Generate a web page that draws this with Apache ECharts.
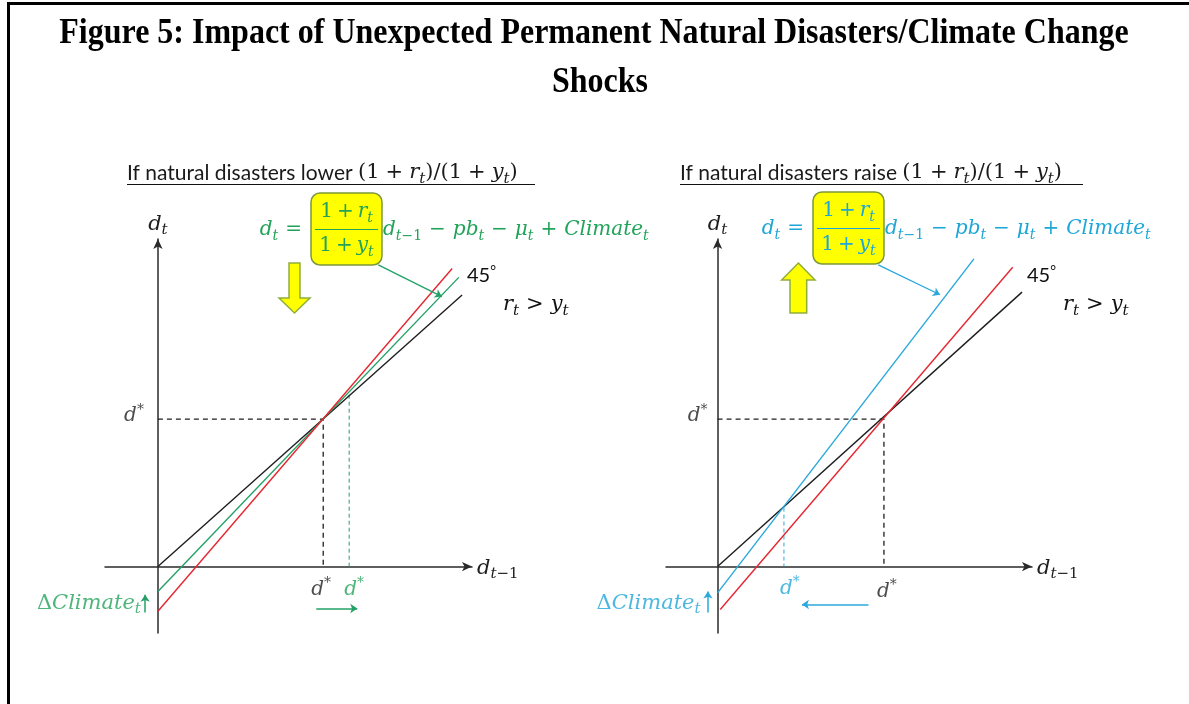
<!DOCTYPE html>
<html><head><meta charset="utf-8">
<script src="https://cdn.jsdelivr.net/npm/echarts@6/dist/echarts.min.js"></script>
<style>html,body{margin:0;padding:0;background:#fff}#c{width:1189px;height:704px}</style>
</head><body><div id="c"></div>
<script>
// ---------- DATA (d* normalised to 10 on both axes) ----------
const dStar = 10;
// Left panel: natural disasters lower (1+r)/(1+y)
const leftBlack = [[0, 0], [18.4, 18.4]];          // reference line
const leftRed   = [[0, -3.03], [17.8, 20.2]];       // original dynamics
const leftGreen = [[0, -1.69], [18.2, 19.6]];       // after shock
const leftNewStar = [11.57, 11.65];                 // new steady state (green)
// Right panel: natural disasters raise (1+r)/(1+y)
const rightBlack = [[0, 0], [18.3, 18.6]];
const rightRed   = [[0.16, -2.91], [17.74, 20.29]];
const rightBlue  = [[0, -1.78], [15.41, 20.85]];
const rightNewStar = [3.99, 4.0];
// annotation arrows (data units)
const leftShiftArrow   = [[9.58, -2.84], [12.06, -2.84]];
const leftClimateArrow = [[-0.77, -3.11], [-0.77, -1.90]];
const leftPointer      = [[13.33, 20.45], [17.18, 18.30]];
const rightShiftArrow  = [[9.07, -2.57], [5.07, -2.57]];
const rightClimateArrow= [[-0.58, -3.11], [-0.58, -1.69]];
const rightPointer     = [[9.66, 20.45], [13.37, 18.42]];

const titleLines = ['Figure 5: Impact of Unexpected Permanent Natural Disasters/Climate Change', 'Shocks'];
const subtitleWords = ['If natural disasters lower ', 'If natural disasters raise '];

// ---------- STYLE ----------
const K = '#1e1e1e', R = '#e5262f', G = '#22a066', GT = '#22a35a', B = '#29a8da', BT = '#1fa6d8';
const SERIF = "'DejaVu Serif', serif";
const SANS = "Lato, 'Open Sans', sans-serif";

function richFor(color, size, opPad) {
  const sub = Math.round(size * 0.72);
  const pad = opPad == null ? 4 : opPad;
  const base = {fontFamily: SERIF, fontWeight: 'normal', color, fill: color};
  return {
    m: Object.assign({}, base, {fontStyle: 'italic', fontSize: size, lineHeight: size + 6}),
    n: Object.assign({}, base, {fontStyle: 'normal', fontSize: size, lineHeight: size + 6}),
    o: Object.assign({}, base, {fontStyle: 'normal', fontSize: size, lineHeight: size + 6, padding: [0, pad, 0, pad]}),
    s: Object.assign({}, base, {fontStyle: 'italic', fontSize: sub, lineHeight: sub, verticalAlign: 'bottom'}),
    sn: Object.assign({}, base, {fontStyle: 'normal', fontSize: sub, lineHeight: sub, verticalAlign: 'bottom'}),
    p: Object.assign({}, base, {fontStyle: 'normal', fontSize: sub, lineHeight: sub, verticalAlign: 'top'}),
    g: {fontFamily: SANS, fontStyle: 'normal', fontSize: size, color, fill: color, lineHeight: size + 6},
    gp: {fontFamily: SANS, fontStyle: 'normal', fontSize: sub, color, fill: color, lineHeight: sub, verticalAlign: 'top'}
  };
}

// ---------- AXES ----------
function xAx(gi, min, max) {
  return {type: 'value', gridIndex: gi, min, max,
    axisLine: {onZero: true, symbol: ['none', 'arrow'], symbolSize: [7, 10], lineStyle: {color: '#2a2a2a', width: 1.5}},
    axisTick: {show: false}, axisLabel: {show: false}, splitLine: {show: false},
    name: '{m|d}{s|t}{sn|−1}', nameLocation: 'end', nameGap: 5,
    nameTextStyle: {rich: richFor(K, 21), verticalAlign: 'middle', padding: [4, 0, 0, 0]}};
}
function yAx(gi) {
  return {type: 'value', gridIndex: gi, min: -4.5, max: 22.2,
    axisLine: {onZero: true, symbol: ['none', 'arrow'], symbolSize: [7, 10], lineStyle: {color: '#2a2a2a', width: 1.5}},
    axisTick: {show: false}, axisLabel: {show: false}, splitLine: {show: false},
    name: '{m|d}{s|t}', nameLocation: 'end', nameGap: 1,
    nameTextStyle: {rich: richFor(K, 21)}};
}

// ---------- SERIES ----------
const S = [];
function line(gi, data, color, width, dash, z) {
  S.push({type: 'line', xAxisIndex: gi, yAxisIndex: gi, data, symbol: 'none', silent: true,
    lineStyle: {color, width, type: dash || 'solid'}, z: z || 2});
}
function arrow(gi, coords, color, w) {
  S.push({type: 'lines', coordinateSystem: 'cartesian2d', xAxisIndex: gi, yAxisIndex: gi,
    symbol: ['none', 'arrow'], symbolSize: 7, silent: true,
    lineStyle: {color, width: w || 1.5, opacity: 1, curveness: 0}, data: [{coords}], z: 4});
}
function label(gi, pt, text, color, position, distance, offset, size) {
  S.push({type: 'scatter', xAxisIndex: gi, yAxisIndex: gi, symbolSize: 0, silent: true,
    data: [{value: pt}], z: 5,
    label: {show: true, formatter: text, position, distance, offset: offset || [0, 0], rich: richFor(color, size || 20)}});
}

// left
line(0, [[0, dStar], [dStar, dStar], [dStar, 0]], K, 1.3, [5, 4]);
line(0, [[leftNewStar[0], leftNewStar[1]], [leftNewStar[0], 0]], G, 1, [4, 3]);
line(0, leftBlack, K, 1.4);
line(0, leftGreen, G, 1.4);
line(0, leftRed, R, 1.4);
arrow(0, leftShiftArrow, G, 1.5);
arrow(0, leftClimateArrow, G, 1.5);
arrow(0, leftPointer, G, 1.3);
label(0, [0, dStar], '{m|d}{p|*}', K, 'left', 14, [0, -3]);
label(0, [dStar, 0], '{m|d}{p|*}', K, 'bottom', 10, [-2, 0]);
label(0, [leftNewStar[0], 0], '{m|d}{p|*}', GT, 'bottom', 10, [5, 0]);
label(0, [0, -2.5], '{n|Δ}{m|Climate}{s|t}', GT, 'left', 17, [0, 0], 21);
// right
line(1, [[0, dStar], [dStar, dStar], [dStar, 0]], K, 1.3, [5, 4]);
line(1, [[rightNewStar[0], rightNewStar[1]], [rightNewStar[0], 0]], B, 1, [4, 3]);
line(1, rightBlack, K, 1.4);
line(1, rightRed, R, 1.4);
line(1, rightBlue, B, 1.4);
arrow(1, rightShiftArrow, B, 1.5);
arrow(1, rightClimateArrow, B, 1.5);
arrow(1, rightPointer, B, 1.3);
label(1, [0, dStar], '{m|d}{p|*}', K, 'left', 10, [0, -3]);
label(1, [dStar, 0], '{m|d}{p|*}', K, 'bottom', 12, [3, 0]);
label(1, [rightNewStar[0], 0], '{m|d}{p|*}', BT, 'bottom', 9, [6, 0]);
label(1, [0, -2.5], '{n|Δ}{m|Climate}{s|t}', BT, 'left', 17, [0, 0], 21);

// ---------- GRAPHIC (text annotations) ----------
const TITLE_FONT = "bold 32px 'Liberation Serif', serif";
const gfx = [
  {type: 'rect', shape: {x: 7, y: 2, width: 3, height: 702}, style: {fill: '#000'}},
  {type: 'rect', shape: {x: 7, y: 2, width: 1182, height: 3}, style: {fill: '#000'}},
  {type: 'text', x: 594, y: 33, scaleY: 1.15, style: {text: titleLines[0], font: TITLE_FONT, fill: '#000', align: 'center', verticalAlign: 'middle'}},
  {type: 'text', x: 600, y: 82, scaleY: 1.15, style: {text: titleLines[1], font: TITLE_FONT, fill: '#000', align: 'center', verticalAlign: 'middle'}}
];
function subtitle(x, word, lineEnd) {
  const rs = richFor('#1a1a1a', 21, 6);
  gfx.push({type: 'text', x, y: 173, style: {text: '{g|' + word + '}{n|(1}{o|+}{m|r}{s|t}{n|)/(1}{o|+}{m|y}{s|t}{n|)}',
    rich: rs, align: 'left', verticalAlign: 'middle'}});
  gfx.push({type: 'line', shape: {x1: x, y1: 184.5, x2: lineEnd, y2: 184.5}, style: {stroke: '#111', lineWidth: 1.2}});
}
subtitle(127, subtitleWords[0], 535);
subtitle(680, subtitleWords[1], 1083);

function equation(color, bx, by) {
  const bw = 71, bh = 72, cy = by + 37;
  const rc = richFor(color, 20, 7);
  const rf = richFor(color, 20, 4);
  gfx.push({type: 'rect', shape: {x: bx, y: by, width: bw, height: bh, r: 9}, style: {fill: '#ffff00', stroke: '#7c983a', lineWidth: 1.5}});
  gfx.push({type: 'text', x: bx - 2, y: cy, style: {text: '{m|d}{s|t}{o|=}', rich: rc, align: 'right', verticalAlign: 'middle'}});
  gfx.push({type: 'text', x: bx + bw / 2, y: by + 19, style: {text: '{n|1}{o|+}{m|r}{s|t}', rich: rf, align: 'center', verticalAlign: 'middle'}});
  gfx.push({type: 'line', shape: {x1: bx + 4, y1: by + 36.5, x2: bx + bw - 4, y2: by + 36.5}, style: {stroke: color, lineWidth: 1.2}});
  gfx.push({type: 'text', x: bx + bw / 2, y: by + 53, style: {text: '{n|1}{o|+}{m|y}{s|t}', rich: rf, align: 'center', verticalAlign: 'middle'}});
  gfx.push({type: 'text', x: bx + bw + 1, y: cy, style: {text: '{m|d}{s|t}{sn|−1}{o|−}{m|pb}{s|t}{o|−}{m|μ}{s|t}{o|+}{m|Climate}{s|t}', rich: rc, align: 'left', verticalAlign: 'middle'}});
}
equation(GT, 311, 193);
equation(BT, 813, 192);

// yellow block arrows
gfx.push({type: 'polygon', shape: {points: [[289, 263], [300, 263], [300, 298], [310, 298], [294.5, 313], [279, 298], [289, 298]]},
  style: {fill: '#ffff00', stroke: '#8fae3c', lineWidth: 1.5}});
gfx.push({type: 'polygon', shape: {points: [[798.4, 263], [815, 280], [806.7, 280], [806.7, 313], [790, 313], [790, 280], [781.7, 280]]},
  style: {fill: '#ffff00', stroke: '#8fae3c', lineWidth: 1.5}});

// 45 deg and r > y labels
[[467, 503], [1027, 1063]].forEach(([x45, xr]) => {
  gfx.push({type: 'text', x: x45, y: 276, style: {text: '{g|45}{gp|°}', rich: richFor('#111', 20), align: 'left', verticalAlign: 'middle'}});
  gfx.push({type: 'text', x: xr, y: 305, style: {text: '{m|r}{s|t}{o|>}{m|y}{s|t}', rich: richFor('#111', 21, 7), align: 'left', verticalAlign: 'middle'}});
});

const chart = echarts.init(document.getElementById('c'));
chart.setOption({
  animation: false,
  backgroundColor: '#fff',
  grid: [
    {left: 105, top: 239, width: 367, height: 394},
    {left: 666, top: 239, width: 366, height: 394}
  ],
  xAxis: [xAx(0, -3.2, 19.0), xAx(1, -3.1, 18.9)],
  yAxis: [yAx(0), yAx(1)],
  series: S,
  graphic: gfx
});
</script></body></html>
